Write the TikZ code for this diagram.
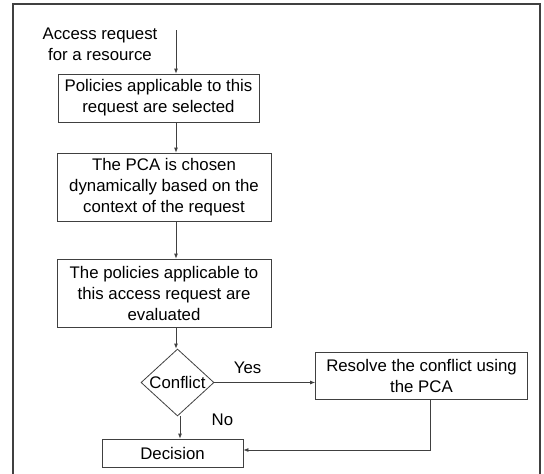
\documentclass[tikz,border=0pt]{standalone}
\usepackage{fontspec}
\setmainfont{Liberation Sans}
\usetikzlibrary{shapes, arrows, calc, positioning}
\usetikzlibrary{arrows.meta}

\begin{document}
\begin{tikzpicture}[
  x=1pt, y=-1pt,
  every node/.style={font=\fontsize{16.8}{21}\selectfont, align=center},
  line/.style={draw=black!75, line width=0.8pt},
  arr/.style={line, -{Latex[length=5pt, width=4pt]}},
  stepbox/.style={rectangle, draw=black!75, line width=0.8pt, inner sep=2pt},
  choice/.style={diamond, draw=black!75, line width=0.8pt, inner sep=-4pt, minimum width=73pt, minimum height=67pt},
  edge label/.style={font=\fontsize{16.8}{21}\selectfont}
]

\useasboundingbox (0,0) rectangle (544,474);
\draw[black!75, line width=1.6pt] (13,480) -- (13,4) -- (540,4) -- (540,480);

% the steps
\node (req) at (100,44) {Access request\\for a resource};
\coordinate (start) at (176,30);
\node[stepbox, minimum width=201pt, minimum height=48pt] (sel) at (158.5,98) {Policies applicable to this\\request are selected};
\node[stepbox, minimum width=214pt, minimum height=68pt] (pca) at (164,187) {The PCA is chosen\\dynamically based on the\\context of the request};
\node[stepbox, minimum width=214pt, minimum height=68pt] (eval) at (164,293) {The policies applicable to\\this access request are\\evaluated};
\node[choice] (cnf) at (177.5,382.5) {Conflict};
\node[stepbox, minimum width=212pt, minimum height=47pt] (res) at (421.5,375.5) {Resolve the conflict using\\the PCA};
\node[stepbox, minimum width=141pt, minimum height=28pt] (dec) at (172.5,453) {Decision};

% the arrows
\draw[arr] (start) -- (start |- sel.north);
\draw[arr] (sel.south -| start) -- (pca.north -| start);
\draw[arr] (pca.south -| start) -- (eval.north -| start);
\draw[arr] (eval.south -| start) -- (cnf.north -| start);
\draw[arr] (cnf.east) -- (res.west |- cnf.east)
  node[edge label, pos=0.33, above=5pt] {Yes};
\draw[arr] ([xshift=2.5pt]cnf.south) -- ([xshift=2.5pt]cnf.south |- dec.north)
  node[edge label, pos=0.15, right=28pt] {No};
\draw[arr] ([xshift=8.5pt]res.south) |- ([yshift=3pt]dec.east);

\end{tikzpicture}
\end{document}
